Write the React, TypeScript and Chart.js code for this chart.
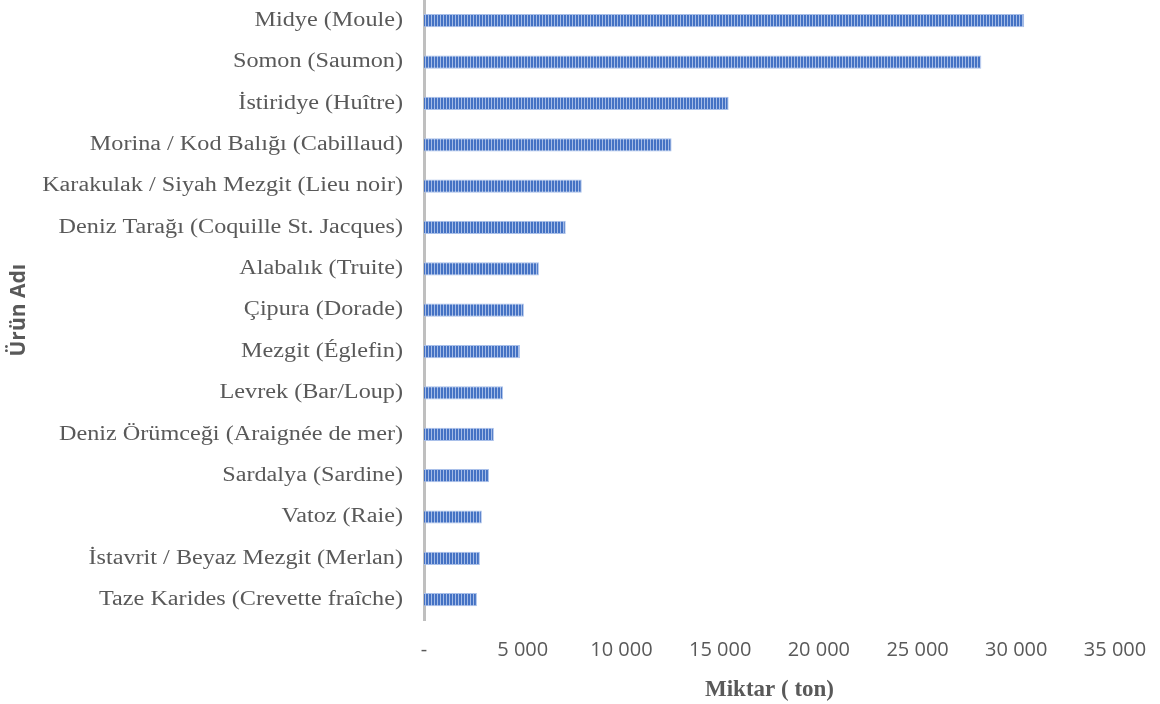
import React, { useEffect, useRef } from "react";
import { Chart, registerables } from "chart.js";

Chart.register(...registerables);

const categories = [
  "Midye (Moule)",
  "Somon (Saumon)",
  "İstiridye (Huître)",
  "Morina / Kod Balığı (Cabillaud)",
  "Karakulak / Siyah Mezgit (Lieu noir)",
  "Deniz Tarağı (Coquille St. Jacques)",
  "Alabalık (Truite)",
  "Çipura (Dorade)",
  "Mezgit (Églefin)",
  "Levrek (Bar/Loup)",
  "Deniz Örümceği (Araignée de mer)",
  "Sardalya (Sardine)",
  "Vatoz (Raie)",
  "İstavrit / Beyaz Mezgit (Merlan)",
  "Taze Karides (Crevette fraîche)",
];

const values = [30400, 28230, 15430, 12540, 7990, 7180, 5820, 5060, 4860, 4000, 3540, 3290, 2930, 2830, 2680];

const xMin = 0;
const xMax = 35000;
const xStep = 5000;

const xTitle = "Miktar ( ton)";
const yTitle = "Ürün Adı";

function makePattern(): CanvasPattern | string {
  const c = document.createElement("canvas");
  c.width = 3;
  c.height = 4;
  const ctx = c.getContext("2d");
  if (!ctx) return "#4472C4";
  ctx.fillStyle = "#4472C4";
  ctx.fillRect(0, 0, 3, 4);
  ctx.fillStyle = "#A4BBE6";
  ctx.fillRect(2, 0, 1, 4);
  const p = ctx.createPattern(c, "repeat");
  return p || "#4472C4";
}

function fmt(v: number): string {
  if (v === 0) return "-";
  return String(v).replace(/\B(?=(\d{3})+(?!\d))/g, " ");
}

const yLabelPlugin = {
  id: "yLabels",
  afterDraw(chart: any) {
    const ys = chart.scales.y;
    const ctx = chart.ctx;
    ctx.save();
    ctx.font = "20px 'Liberation Serif', serif";
    ctx.fillStyle = "#595959";
    ctx.textAlign = "right";
    ctx.textBaseline = "middle";
    const labels = chart.data.labels as string[];
    labels.forEach((lab, i) => {
      const py = ys.getPixelForTick(i);
      ctx.save();
      ctx.translate(ys.right - 21, py);
      ctx.scale(1.21, 1);
      ctx.fillText(lab, 0, 0);
      ctx.restore();
    });
    ctx.restore();
  },
};

export default function App() {
  const ref = useRef<HTMLCanvasElement | null>(null);
  useEffect(() => {
    if (!ref.current) return;
    const chart = new Chart(ref.current, {
      type: "bar",
      data: {
        labels: categories,
        datasets: [
          {
            data: values,
            backgroundColor: makePattern() as any,
            borderColor: "#A9C0EA",
            borderWidth: 1,
            borderSkipped: "left",
            barPercentage: 0.32,
            categoryPercentage: 1,
          },
        ],
      },
      plugins: [yLabelPlugin],
      options: {
        indexAxis: "y",
        animation: false,
        responsive: false,
        maintainAspectRatio: false,
        layout: { padding: { top: 0, right: 45, bottom: 0, left: 6 } },
        plugins: { legend: { display: false }, tooltip: { enabled: false } },
        scales: {
          x: {
            min: xMin,
            max: xMax,
            ticks: {
              stepSize: xStep,
              color: "#595959",
              padding: 18,
              font: { family: "'Open Sans', sans-serif", size: 20 },
              callback: (v: any) => fmt(Number(v)),
              maxRotation: 0,
            },
            grid: { display: false, drawTicks: false },
            border: { display: false },
            title: {
              display: true,
              text: xTitle,
              color: "#595959",
              font: { family: "'Liberation Serif', serif", size: 23, weight: "bold" },
              padding: { top: -4, bottom: 0 },
            },
            afterFit: (s: any) => {
              s.paddingRight = 0;
              s.paddingLeft = 0;
            },
          },
          y: {
            ticks: { display: false },
            grid: { display: false, drawTicks: false },
            border: { display: true, color: "#BFBFBF", width: 3 },
            title: {
              display: true,
              text: yTitle,
              color: "#595959",
              font: { family: "'Open Sans', sans-serif", size: 21, weight: "bold" },
              padding: { top: 0, bottom: 0 },
            },
            afterFit: (s: any) => {
              s.width = 418;
              s.paddingTop = 0;
              s.paddingBottom = 0;
            },
          },
        },
      },
    });
    return () => chart.destroy();
  }, []);
  return (
    <div style={{ position: "fixed", left: 0, top: 0, width: 1160, height: 704, background: "#fff" }}>
      <canvas ref={ref} width={1160} height={704} style={{ width: 1160, height: 704 }} />
    </div>
  );
}
